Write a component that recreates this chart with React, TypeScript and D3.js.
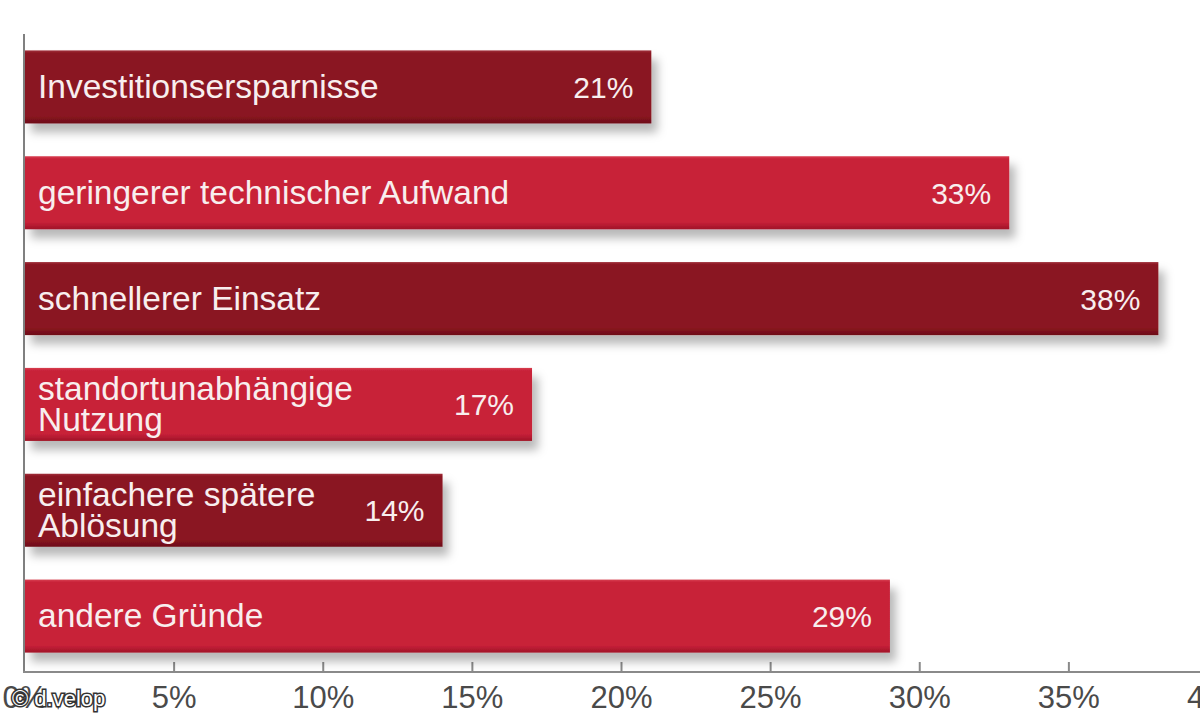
import { useEffect, useRef } from 'react'
import * as d3 from 'd3'

// Data
const labels = [
  ['Investitionsersparnisse'],
  ['geringerer technischer Aufwand'],
  ['schnellerer Einsatz'],
  ['standortunabhängige', 'Nutzung'],
  ['einfachere spätere', 'Ablösung'],
  ['andere Gründe'],
]
const values = [21, 33, 38, 17, 14, 29]
const tones = ['dark', 'light', 'dark', 'light', 'dark', 'light']
const tickValues = [0, 5, 10, 15, 20, 25, 30, 35, 40]

const palette: Record<string, [string, string, string]> = {
  // top edge, body, bottom edge
  dark: ['#a0303a', '#8a1420', '#6c0e18'],
  light: ['#d8404f', '#c82139', '#a01428'],
}

export default function App() {
  const ref = useRef<SVGSVGElement>(null)

  useEffect(() => {
    const el = ref.current
    if (!el) return
    const svg = d3.select(el)
    svg.selectAll('*').remove()

    const W = 1200
    const H = 720
    const font = '"Liberation Sans", Arial, Helvetica, sans-serif'
    const ids = labels.map((_, i) => `c${i}`)

    const x = d3.scaleLinear().domain([0, 40]).range([25, 1218])
    const y = d3.scaleBand<string>()
      .domain(ids)
      .range([34, 669])
      .paddingInner(0.31)
      .paddingOuter(0.155)

    const defs = svg.append('defs')
    const shadow = defs.append('filter')
      .attr('id', 'shadow')
      .attr('x', '-5%').attr('y', '-20%')
      .attr('width', '115%').attr('height', '160%')
    shadow.append('feDropShadow')
      .attr('dx', 6).attr('dy', 9)
      .attr('stdDeviation', 5)
      .attr('flood-color', '#000')
      .attr('flood-opacity', 0.28)

    Object.entries(palette).forEach(([k, [top, body, bottom]]) => {
      const g = defs.append('linearGradient')
        .attr('id', `grad-${k}`)
        .attr('x1', 0).attr('y1', 0).attr('x2', 0).attr('y2', 1)
      g.append('stop').attr('offset', '0%').attr('stop-color', top)
      g.append('stop').attr('offset', '4%').attr('stop-color', body)
      g.append('stop').attr('offset', '90%').attr('stop-color', body)
      g.append('stop').attr('offset', '100%').attr('stop-color', bottom)
    })

    svg.append('rect').attr('width', W).attr('height', H).attr('fill', '#fff')

    // axes
    svg.append('line')
      .attr('x1', x(0) - 1).attr('x2', x(0) - 1)
      .attr('y1', 34).attr('y2', 673)
      .attr('stroke', '#808080').attr('stroke-width', 2)

    svg.append('line')
      .attr('x1', x(0) - 2).attr('x2', W)
      .attr('y1', 672).attr('y2', 672)
      .attr('stroke', '#8a8a8a').attr('stroke-width', 2)

    svg.selectAll('.tick')
      .data(tickValues.filter(d => d > 0))
      .enter().append('line')
      .attr('x1', d => x(d)).attr('x2', d => x(d))
      .attr('y1', 662).attr('y2', 672)
      .attr('stroke', '#8a8a8a').attr('stroke-width', 2)

    svg.selectAll('.ticklabel')
      .data(tickValues)
      .enter().append('text')
      .attr('x', d => x(d))
      .attr('y', 708)
      .attr('text-anchor', 'middle')
      .attr('font-family', font)
      .attr('font-size', 31)
      .attr('fill', '#4a4a4a')
      .text(d => `${d}%`)

    // bars
    const bars = svg.selectAll('.bar')
      .data(values)
      .enter().append('g')

    bars.append('rect')
      .attr('x', x(0))
      .attr('y', (_, i) => y(ids[i]) as number)
      .attr('width', d => x(d) - x(0))
      .attr('height', y.bandwidth())
      .attr('fill', (_, i) => `url(#grad-${tones[i]})`)
      .attr('filter', 'url(#shadow)')

    bars.append('text')
      .attr('x', d => x(d) - 18)
      .attr('y', (_, i) => (y(ids[i]) as number) + y.bandwidth() / 2 + 11)
      .attr('text-anchor', 'end')
      .attr('font-family', font)
      .attr('font-size', 30)
      .attr('fill', '#f8eeee')
      .text(d => `${d}%`)

    bars.each(function (_, i) {
      const lines = labels[i]
      const top = y(ids[i]) as number
      const mid = top + y.bandwidth() / 2
      const lh = 31
      const first = mid + 11 - ((lines.length - 1) * lh) / 2
      const t = d3.select(this).append('text')
        .attr('font-family', font)
        .attr('font-size', 33.5)
        .attr('fill', '#f8eeee')
      lines.forEach((ln, j) => {
        t.append('tspan')
          .attr('x', 38)
          .attr('y', first + j * lh)
          .text(ln)
      })
    })

    // watermark
    svg.append('text')
      .attr('x', 12)
      .attr('y', 706)
      .attr('font-family', font)
      .attr('font-size', 22)
      .attr('fill', '#fff')
      .attr('stroke', '#333')
      .attr('stroke-width', 3)
      .attr('paint-order', 'stroke')
      .text('© d.velop')
  }, [])

  return (
    <div style={{ position: 'fixed', left: 0, top: 0 }}>
      <svg ref={ref} width={1200} height={720} />
    </div>
  )
}
